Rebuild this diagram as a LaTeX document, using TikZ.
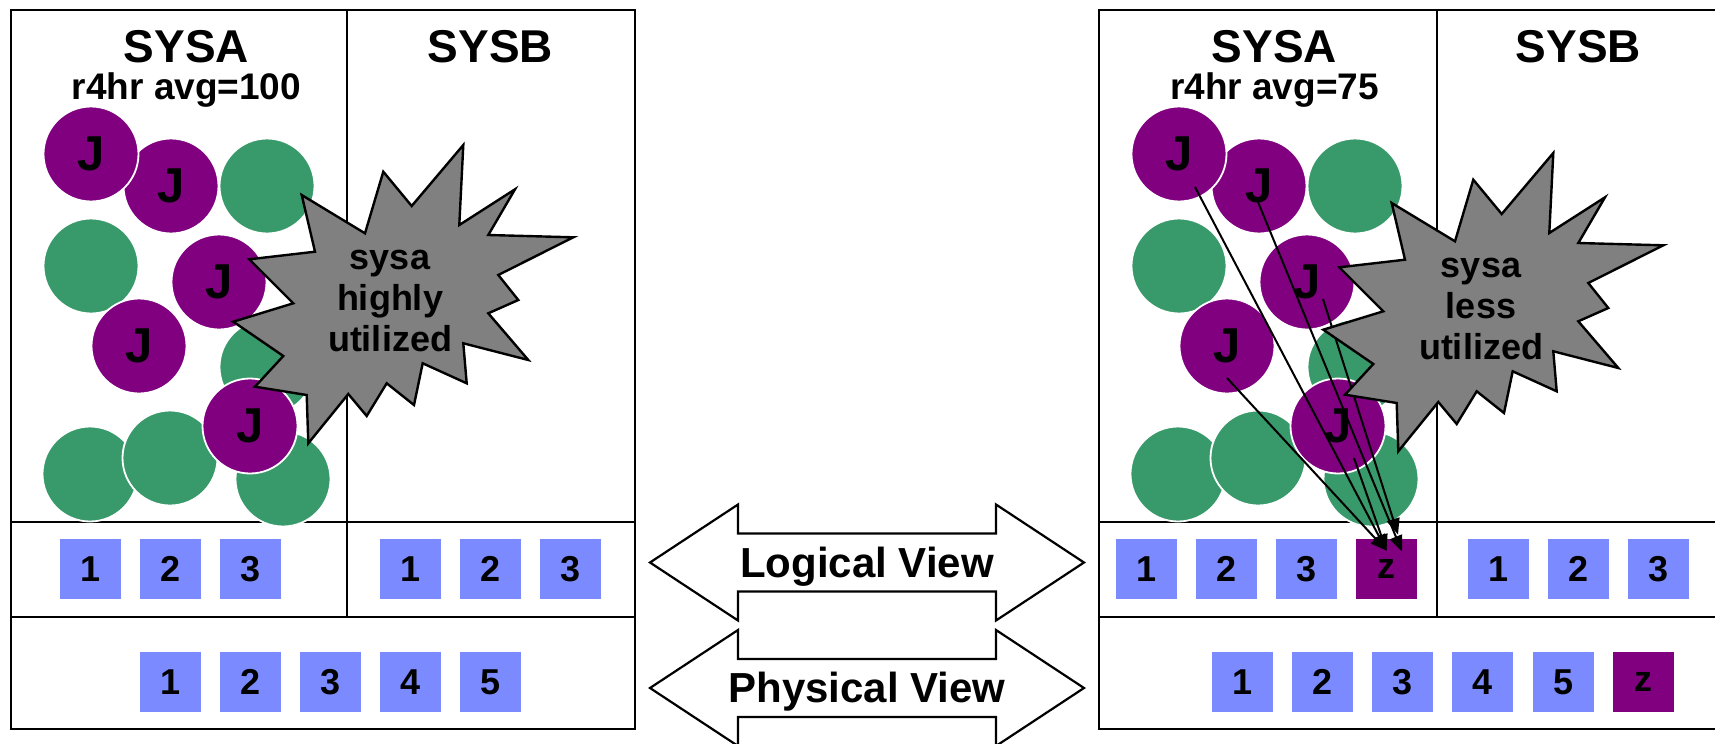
\documentclass[tikz,border=0pt]{standalone}
\usepackage{fontspec}
\setmainfont{Liberation Sans}
\usetikzlibrary{arrows.meta,calc}
\definecolor{jpurple}{HTML}{800080}
\definecolor{jgreen}{HTML}{389A6A}
\definecolor{vblue}{HTML}{7B8BFF}
\definecolor{stargrey}{HTML}{808080}
\tikzset{
  frame/.style={draw=black, line width=1.1pt},
  job/.style={circle, fill=jpurple, draw=white, line width=0.9pt, minimum size=47.5pt, inner sep=0pt,
    font=\bfseries\fontsize{24.5}{24.5}\selectfont},
  other/.style={circle, fill=jgreen, draw=white, line width=0.9pt, minimum size=47.5pt, inner sep=0pt},
  vol/.style={rectangle, fill=vblue, minimum width=30.5pt, minimum height=30pt, inner sep=0pt,
    font=\bfseries\fontsize{18}{18}\selectfont},
  volz/.style={vol, fill=jpurple},
  title/.style={font=\bfseries\fontsize{23}{23}\selectfont, anchor=base, inner sep=0pt},
  subtitle/.style={font=\bfseries\fontsize{18.5}{18.5}\selectfont, anchor=base, inner sep=0pt},
  burst/.style={fill=stargrey, draw=black, line width=1.2pt, line join=miter},
  burstlabel/.style={font=\bfseries\fontsize{18}{20.5}\selectfont, align=center, inner sep=0pt},
  bigarrow/.style={fill=white, draw=black, line width=1.1pt, line join=miter},
  viewlabel/.style={font=\bfseries\fontsize{21}{21}\selectfont, inner sep=0pt, anchor=base},
  mv/.style={draw=black, line width=1pt, -{Triangle[length=8pt,width=6.5pt]}}
}
\newcommand{\circlegroup}[1]{%
  \node[job] (#1J2) at (171,186) {J};
  \node[job] (#1J1) at (91,154) {J};
  \node[other] (#1G3) at (267,186) {};
  \node[other] (#1G4) at (91,266) {};
  \node[job] (#1J5) at (219,282) {J};
  \node[job] (#1J6) at (139,346) {J};
  \node[other] (#1G7) at (267,367) {};
  \node[other] (#1G9) at (90,474) {};
  \node[other] (#1G10) at (170,458) {};
  \node[other] (#1G11) at (283,479) {};
  \node[job] (#1J8) at (250,426) {J};
}
\newcommand{\burstpath}{(301.7,195) -- (365,233.3) -- (383.3,171.7) -- (411.7,206) -- (463.3,145)
  -- (459.3,225) -- (515,189.3) -- (488.3,235) -- (573.3,237.3) -- (498.3,275) -- (518.3,300)
  -- (488.3,313.3) -- (528.3,360) -- (463.3,343.3) -- (466.7,383.3) -- (422.7,363.3) -- (414,405)
  -- (386.7,383.3) -- (366.7,416) -- (348.3,394) -- (308.3,443.3) -- (306.7,395) -- (255,386.7)
  -- (283.3,356) -- (233.3,321.7) -- (293.3,303.3) -- (249.3,259.3) -- (315,251.7) -- cycle}
\begin{document}
\begin{tikzpicture}[x=0.5pt, y=-0.5pt]
\useasboundingbox (0,0) rectangle (1715,744);
\clip (0,0) rectangle (1715,744);
\fill[white] (0,0) rectangle (1715,744);

% ---------- left panel ----------
\draw[frame] (11,10) rectangle (635,729);
\draw[frame] (11,522) -- (635,522);
\draw[frame] (11,617) -- (635,617);
\draw[frame] (347,10) -- (347,617);
\node[title] (lsysa) at (186.5,62) {SYSA};
\node[subtitle] (lavg) at (186.5,99) {r4hr avg=100};
\node[title] (lsysb) at (490.5,62) {SYSB};
\circlegroup{l}
\draw[burst] \burstpath;
\node[burstlabel] (lburst) at (390,301) {sysa\\highly\\utilized};
\node[vol] (la1) at (90.5,569) {1};
\node[vol] (la2) at (170.5,569) {2};
\node[vol] (la3) at (250.5,569) {3};
\node[vol] (lb1) at (410.5,569) {1};
\node[vol] (lb2) at (490.5,569) {2};
\node[vol] (lb3) at (570.5,569) {3};
\node[vol] (lp1) at (170.5,682) {1};
\node[vol] (lp2) at (250.5,682) {2};
\node[vol] (lp3) at (330.5,682) {3};
\node[vol] (lp4) at (410.5,682) {4};
\node[vol] (lp5) at (490.5,682) {5};

% ---------- middle arrows ----------
\draw[bigarrow] (650,562.5) -- (738,504.5) -- (738,533.5) -- (996,533.5) -- (996,504.5)
  -- (1084,562.5) -- (996,620.5) -- (996,591.5) -- (738,591.5) -- (738,620.5) -- cycle;
\node[viewlabel] (logical) at (867,577) {Logical View};
\draw[bigarrow] (650,688) -- (738,630) -- (738,659) -- (996,659) -- (996,630)
  -- (1084,688) -- (996,746) -- (996,717) -- (738,717) -- (738,746) -- cycle;
\node[viewlabel] (physical) at (867,702) {Physical View};

% ---------- right panel ----------
\draw[frame] (1099,10) rectangle (1723,729);
\draw[frame] (1099,522) -- (1723,522);
\draw[frame] (1099,617) -- (1723,617);
\draw[frame] (1437,10) -- (1437,617);
\node[title] (rsysa) at (1274.5,62) {SYSA};
\node[subtitle] (ravg) at (1274.5,99) {r4hr avg=75};
\node[title] (rsysb) at (1578.5,62) {SYSB};
\begin{scope}[shift={(1088,0)}]
\circlegroup{r}
\end{scope}
\node[vol] (ra1) at (1146.5,569) {1};
\node[vol] (ra2) at (1226.5,569) {2};
\node[vol] (ra3) at (1306.5,569) {3};
\node[volz] (rz) at (1386.5,569) {z};
\node[vol] (rb1) at (1498.5,569) {1};
\node[vol] (rb2) at (1578.5,569) {2};
\node[vol] (rb3) at (1658.5,569) {3};
\node[vol] (rp1) at (1242.5,682) {1};
\node[vol] (rp2) at (1322.5,682) {2};
\node[vol] (rp3) at (1402.5,682) {3};
\node[vol] (rp4) at (1482.5,682) {4};
\node[vol] (rp5) at (1563.5,682) {5};
\node[volz] (rpz) at (1643.5,682) {z};
\draw[mv] ($(rJ1)+(16,33)$) -- ($(rz.north)+(0,12)$);
\draw[mv] ($(rJ6)+(0,32)$) -- ($(rz.north)+(0,12)$);
\draw[mv] ($(rJ8)+(16,32)$) -- ($(rz.north)+(0,12)$);
\draw[mv] ($(rJ2)+(-1,16)$) -- ($(rz.north)+(15.5,13)$);
\draw[mv] ($(rJ5)+(16,17)$) -- ($(rz.north)+(11.5,-4)$);
\begin{scope}[shift={(1090,8)}]
\draw[burst] \burstpath;
\end{scope}
\node[burstlabel] (rburst) at (1481,309) {sysa\\less\\utilized};
\end{tikzpicture}
\end{document}
